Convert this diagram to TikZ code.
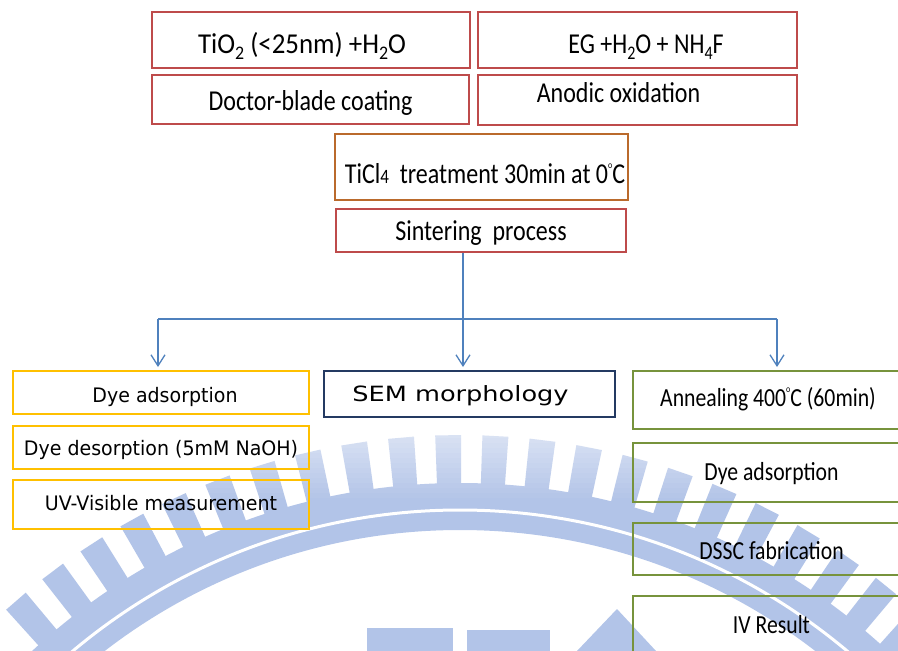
\documentclass[tikz,border=0pt]{standalone}
\usepackage{fontspec}
\usepackage{graphicx}
\usetikzlibrary{arrows.meta}
\newfontfamily\calfont{Carlito}
\newfontfamily\dvfont{DejaVu Sans}
\definecolor{boxred}{RGB}{190,75,75}
\definecolor{boxbrown}{RGB}{186,106,44}
\definecolor{boxyellow}{RGB}{255,192,0}
\definecolor{boxnavy}{RGB}{36,58,98}
\definecolor{boxgreen}{RGB}{119,147,60}
\definecolor{arrowblue}{RGB}{79,129,189}
\definecolor{wmblue}{RGB}{178,196,232}
\newcommand\ctxt[1]{\scalebox{1}[1.2]{\calfont\fontsize{24}{24}\selectfont #1}}
\newcommand\gtxt[1]{\scalebox{1}[1.2]{\calfont\fontsize{21.7}{22}\selectfont #1}}
\newcommand\ytxt[1]{\scalebox{1}[1.05]{\dvfont\fontsize{19}{19}\selectfont #1}}
\newcommand\lowsub[1]{\raisebox{-0.22em}{\fontsize{16}{16}\selectfont #1}}
\newcommand\degsym{\raisebox{0.52em}{\fontsize{8}{8}\selectfont o}}
\begin{document}
\begin{tikzpicture}[x=1pt,y=-1pt,
  boxbase/.style={draw, line width=2pt, inner sep=0pt, text depth=0pt, align=center},
  redbox/.style={boxbase, draw=boxred},
  brownbox/.style={boxbase, draw=boxbrown},
  yelbox/.style={boxbase, draw=boxyellow, minimum width=296pt},
  navybox/.style={boxbase, draw=boxnavy},
  grnbox/.style={boxbase, draw=boxgreen, minimum width=277pt},
  conn/.style={draw=arrowblue, line width=1.3pt},
  arr/.style={conn, -{Straight Barb[length=11pt,width=14pt]}, shorten >=3pt}]
\useasboundingbox (0,0) rectangle (898,651);
\clip (0,0) rectangle (898,651);
\fill[white] (0,0) rectangle (898,651);
% watermark
\fill[wmblue, even odd rule] (460,1112) circle[radius=629pt] (460,1112) circle[radius=582pt];
\draw[white, line width=3pt] (460,1112) circle[radius=602pt];
\foreach \a in {47,51,...,131} {
  \fill[wmblue] ({460+626*cos(\a-1.1)},{1112-626*sin(\a-1.1)}) -- ({460+677*cos(\a-1.1)},{1112-677*sin(\a-1.1)})
    -- ({460+677*cos(\a+1.1)},{1112-677*sin(\a+1.1)}) -- ({460+626*cos(\a+1.1)},{1112-626*sin(\a+1.1)}) -- cycle;
}
\fill[wmblue] (367,628) rectangle (453,651);
\fill[wmblue] (467,630) rectangle (550,651);
\fill[wmblue] (577,651) -- (617,609) -- (656,651) -- cycle;
% soft fade of the watermark towards its top
\foreach \i in {0,...,13} {
  \fill[white, opacity={0.55*(1-\i/14)}] (0,{428+5*\i}) rectangle (898,{433+5*\i});
}
% top boxes
\node[redbox, minimum width=318pt, minimum height=56pt, text height=26pt] (tio2) at (311,40)
  {\hspace*{-18pt}\scalebox{1.12}[1]{\ctxt{TiO\lowsub{2} (<25nm) +H\lowsub{2}O}}};
\node[redbox, minimum width=319pt, minimum height=56pt, text height=26pt] (eg) at (637.5,40)
  {\hspace*{17pt}\ctxt{EG +H\lowsub{2}O + NH\lowsub{4}F}};
\node[redbox, minimum width=317pt, minimum height=49pt, text height=21pt] (doctor) at (310.5,99.5)
  {\ctxt{Doctor-blade coating}};
\node[redbox, minimum width=319pt, minimum height=50pt, text height=4pt] (anodic) at (637.5,100)
  {\hspace*{-38pt}\ctxt{Anodic oxidation}};
\node[brownbox, minimum width=293pt, minimum height=66pt, text height=32pt] (ticl) at (481.5,167)
  {\hspace*{7pt}\ctxt{TiCl{\fontsize{17}{17}\selectfont 4}\ \ treatment 30min at 0\degsym C}};
\node[redbox, minimum width=290pt, minimum height=43pt, text height=19pt] (sinter) at (481,230.5)
  {\ctxt{Sintering\ \ process}};
% left column
\node[yelbox, minimum height=43pt, text height=19pt] (y1) at (161,392.5)
  {\hspace*{8pt}\ytxt{Dye adsorption}};
\node[yelbox, minimum height=43pt, text height=15pt] (y2) at (161,447.5)
  {\ytxt{Dye desorption (5mM NaOH)}};
\node[yelbox, minimum height=49pt, text height=12pt] (y3) at (161,504.5)
  {\ytxt{UV-Visible measurement}};
% middle
\node[navybox, minimum width=291pt, minimum height=46pt, text height=14pt] (sem) at (469.5,394)
  {\hspace*{-18pt}\scalebox{1.22}[1]{\dvfont\fontsize{21}{21}\selectfont SEM morphology}};
% right column
\node[grnbox, minimum height=58pt, text height=13pt] (g1) at (771.5,400)
  {\hspace*{-7pt}\gtxt{Annealing 400\degsym C (60min)}};
\node[grnbox, minimum height=59pt, text height=15pt] (g2) at (771.5,472.5)
  {\gtxt{Dye adsorption}};
\node[grnbox, minimum height=52pt, text height=20pt] (g3) at (771.5,549)
  {\gtxt{DSSC fabrication}};
\node[grnbox, minimum height=76pt, text height=0pt, text depth=2pt] (g4) at (771.5,634)
  {\gtxt{IV Result}};
% connectors
\coordinate (jL) at (158,319);
\coordinate (jC) at (463,319);
\coordinate (jR) at (777,319);
\draw[conn] (sinter.south -| jC) -- (jC);
\draw[conn] (jL) -- (jR);
\draw[arr] (jL) -- (jL |- y1.north);
\draw[arr] (jC) -- (jC |- sem.north);
\draw[arr] (jR) -- (jR |- g1.north);
\end{tikzpicture}
\end{document}
